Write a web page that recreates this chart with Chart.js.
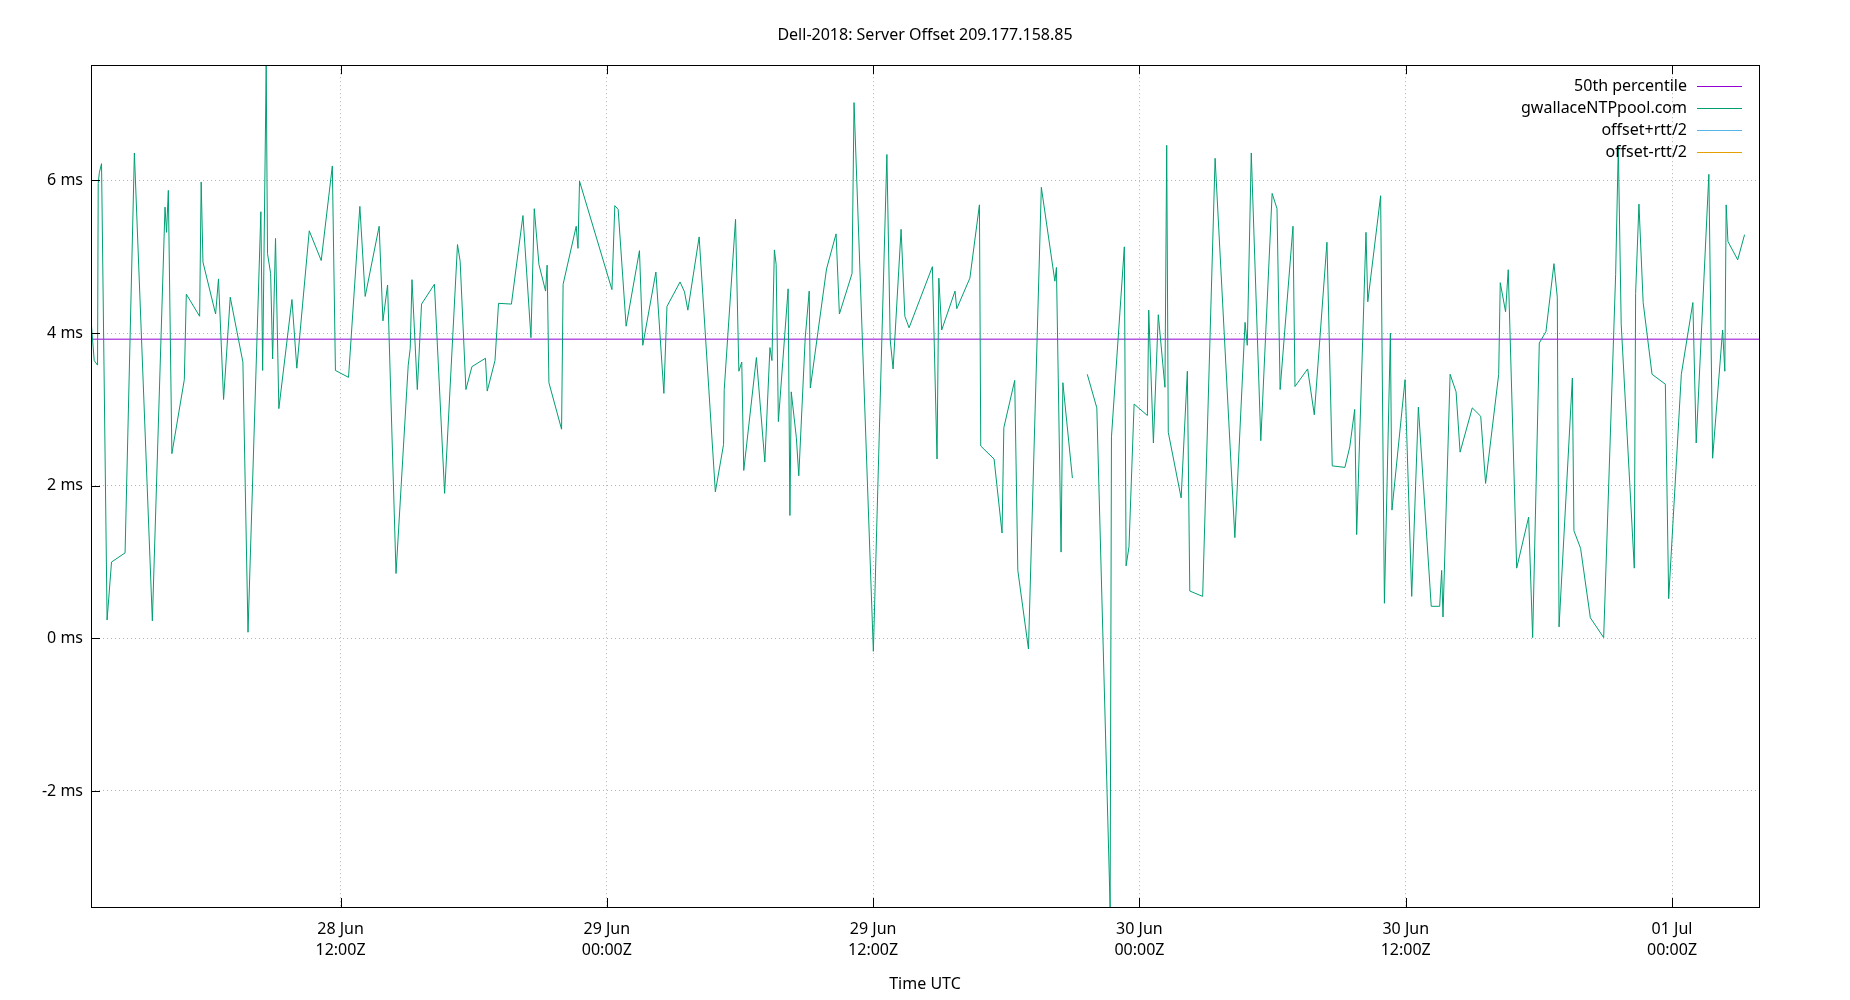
<!DOCTYPE html>
<html>
<head>
<meta charset="utf-8">
<title>Dell-2018: Server Offset 209.177.158.85</title>
<script src="https://cdn.jsdelivr.net/npm/chart.js@4.4.1/dist/chart.umd.min.js"></script>
<style>
  html, body { margin: 0; padding: 0; background: #fff; }
  #offsetChart { display: block; }
</style>
</head>
<body>
<canvas id="offsetChart" width="1850" height="1000"></canvas>
<script>
// hours since 28 Jun 2018 00:00Z
const times = [
  0.77, 0.90, 1.05, 1.08, 1.13, 1.23, 1.48, 1.68, 2.29, 2.71,
  3.52, 4.09, 4.16, 4.24, 4.40, 4.96, 5.05, 5.65, 5.72, 5.80,
  6.37, 6.50, 6.73, 7.03, 7.60, 7.83, 8.41, 8.49, 8.65, 8.71,
  8.85, 8.94, 9.07, 9.22, 9.81, 10.03, 10.59, 11.13, 11.63, 11.77,
  12.36, 12.87, 13.11, 13.74, 13.91, 14.12, 14.50, 15.05, 15.14, 15.22,
  15.46, 15.65, 16.23, 16.69, 17.27, 17.39, 17.65, 17.92, 18.53, 18.61,
  18.96, 19.12, 19.70, 20.22, 20.58, 20.73, 20.94, 21.24, 21.31, 21.39,
  21.96, 22.03, 22.62, 22.70, 22.77, 24.23, 24.36, 24.51, 24.87, 25.47,
  25.62, 26.21, 26.57, 26.71, 27.30, 27.50, 27.65, 28.16, 28.89, 29.26,
  29.29, 29.80, 29.95, 30.08, 30.17, 30.74, 31.12, 31.35, 31.44, 31.55,
  31.63, 31.73, 32.17, 32.25, 32.31, 32.54, 32.65, 32.94, 33.12, 33.17,
  33.90, 34.33, 34.48, 35.05, 35.14, 36.01, 36.62, 36.77, 36.90, 37.26,
  37.43, 37.62, 38.67, 38.88, 38.96, 39.09, 39.69, 39.77, 40.36, 40.79,
  40.85, 41.45, 41.81, 41.89, 42.38, 42.52, 43.00, 43.58, 44.19, 44.26,
  44.47, 44.55, 44.98, 45.30, 45.65, 46.08, 46.68, 46.74, 47.32, 47.40,
  47.53, 47.76, 48.36, 48.42, 48.63, 48.85, 49.15, 49.23, 49.30, 49.88,
  50.16, 50.27, 50.85, 51.41, 52.30, 52.76, 52.86, 53.04, 53.47, 53.98,
  54.20, 54.34, 54.92, 55.01, 55.58, 55.88, 56.45, 56.69, 57.26, 57.48,
  57.70, 57.79, 58.21, 58.29, 58.87, 59.04, 59.31, 59.38, 59.97, 60.27,
  60.57, 61.15, 61.53, 61.62, 61.68, 62.00, 62.27, 62.45, 63.00, 63.38,
  63.60, 64.19, 64.26, 64.50, 64.62, 65.00, 65.54, 65.72, 66.02, 66.32,
  66.68, 66.83, 66.91, 67.51, 67.58, 67.88, 68.32, 68.92, 69.46, 69.58,
  69.71, 70.30, 70.36, 70.51, 70.70, 71.10, 71.70, 71.85, 72.42, 72.94,
  73.09, 73.66, 73.83, 74.28, 74.38, 74.44, 74.52, 74.96, 75.27
];

// server offset in ms (null = gap in the data)
const offsets = [
  4.12, 3.64, 3.58, 5.96, 6.10, 6.22, 0.24, 1.00, 1.12, 6.36,
  0.23, 5.65, 5.32, 5.87, 2.42, 3.39, 4.51, 4.22, 5.98, 4.93,
  4.25, 4.71, 3.13, 4.47, 3.62, 0.08, 5.59, 3.51, 7.50, 5.04,
  4.78, 3.66, 5.24, 3.01, 4.44, 3.54, 5.34, 4.95, 6.19, 3.51,
  3.42, 5.66, 4.48, 5.40, 4.16, 4.63, 0.85, 3.58, 3.80, 4.70,
  3.26, 4.38, 4.64, 1.90, 5.16, 4.94, 3.26, 3.56, 3.67, 3.24,
  3.64, 4.39, 4.38, 5.54, 3.94, 5.63, 4.90, 4.55, 4.89, 3.35,
  2.74, 4.64, 5.40, 5.11, 5.99, 4.57, 5.67, 5.62, 4.09, 5.08,
  3.84, 4.80, 3.21, 4.35, 4.67, 4.54, 4.30, 5.26, 1.92, 2.54,
  3.26, 5.49, 3.50, 3.62, 2.20, 3.68, 2.31, 3.81, 3.64, 5.09,
  4.90, 2.84, 4.58, 1.61, 3.23, 2.63, 2.13, 3.94, 4.55, 3.28,
  4.84, 5.30, 4.25, 4.78, 7.02, -0.17, 6.34, 3.91, 3.53, 5.36,
  4.22, 4.07, 4.87, 2.35, 4.72, 4.04, 4.55, 4.32, 4.72, 5.68,
  2.52, 2.35, 1.38, 2.76, 3.38, 0.89, -0.14, 5.91, 4.68, 4.86,
  1.13, 3.35, 2.10, null, 3.46, 3.02, -3.52, 2.64, 5.13, 0.95,
  1.20, 3.07, 2.92, 4.30, 2.56, 4.24, 3.29, 6.46, 2.70, 1.84,
  3.50, 0.62, 0.55, 6.29, 1.32, 4.14, 3.84, 6.36, 2.59, 5.83,
  5.63, 3.26, 5.40, 3.30, 3.53, 2.93, 5.19, 2.26, 2.24, 2.51,
  3.00, 1.36, 5.32, 4.41, 5.80, 0.46, 4.00, 1.68, 3.39, 0.55,
  3.03, 0.42, 0.42, 0.89, 0.28, 3.46, 3.23, 2.44, 3.02, 2.91,
  2.03, 3.46, 4.66, 4.28, 4.83, 0.92, 1.59, 0.01, 3.87, 4.02,
  4.91, 4.47, 0.15, 3.41, 1.41, 1.18, 0.27, 0.01, 4.77, 6.44,
  4.12, 0.92, 4.52, 5.69, 4.40, 3.46, 3.33, 0.52, 3.46, 4.40,
  2.56, 6.08, 2.36, 4.04, 3.50, 5.68, 5.20, 4.96, 5.29
];

const percentile50 = 3.92;

const xRange = [0.755, 75.92];
const yRange = [-3.52, 7.51];

const xTickHours  = [12, 24, 36, 48, 60, 72];
const xTickLabels = [
  ['28 Jun', '12:00Z'],
  ['29 Jun', '00:00Z'],
  ['29 Jun', '12:00Z'],
  ['30 Jun', '00:00Z'],
  ['30 Jun', '12:00Z'],
  ['01 Jul', '00:00Z']
];
const yTicks = [-2, 0, 2, 4, 6];

const seriesNames  = ['50th percentile', 'gwallaceNTPpool.com', 'offset+rtt/2', 'offset-rtt/2'];
const seriesColors = ['#9400d3', '#009e73', '#56b4e9', '#e69f00'];

Chart.defaults.font.family = "'Noto Sans', 'DejaVu Sans', sans-serif";
Chart.defaults.font.size = 16;
Chart.defaults.color = '#000';

// gnuplot-ish frame: full box + inward tick marks
const framePlugin = {
    id: 'frame',
    afterDatasetsDraw(chart) {
        const { ctx, chartArea: a, scales } = chart;
        const tick = 9;
        ctx.save();
        ctx.strokeStyle = '#000';
        ctx.lineWidth = 1;
        ctx.beginPath();
        yTicks.forEach(v => {
            const y = Math.round(scales.y.getPixelForValue(v)) + 0.5;
            ctx.moveTo(a.left, y);
            ctx.lineTo(a.left + tick, y);
        });
        xTickHours.forEach(v => {
            const x = Math.round(scales.x.getPixelForValue(v)) + 0.5;
            ctx.moveTo(x, a.bottom);
            ctx.lineTo(x, a.bottom - tick);
            ctx.moveTo(x, a.top);
            ctx.lineTo(x, a.top + tick);
        });
        ctx.stroke();
        ctx.strokeRect(Math.round(a.left) + 0.5, Math.round(a.top) + 0.5,
                       Math.round(a.right - a.left), Math.round(a.bottom - a.top));
        ctx.restore();
    }
};

// key in the top right corner, text right aligned with the sample line after it
const keyPlugin = {
    id: 'key',
    afterDraw(chart) {
        const { ctx, chartArea: a } = chart;
        ctx.save();
        ctx.font = "16px 'Noto Sans', 'DejaVu Sans', sans-serif";
        ctx.textAlign = 'right';
        ctx.textBaseline = 'middle';
        seriesNames.forEach((name, i) => {
            const y = a.top + 21 + i * 22;
            ctx.fillStyle = '#000';
            ctx.fillText(name, a.right - 72, y);
            ctx.strokeStyle = seriesColors[i];
            ctx.lineWidth = 1;
            ctx.beginPath();
            ctx.moveTo(a.right - 62, Math.round(y) + 0.5);
            ctx.lineTo(a.right - 17, Math.round(y) + 0.5);
            ctx.stroke();
        });
        ctx.restore();
    }
};

const offsetPoints = times.map((t, i) => ({ x: t, y: offsets[i] }));

new Chart(document.getElementById('offsetChart').getContext('2d'), {
    type: 'line',
    data: {
        datasets: [
            {
                label: seriesNames[0],
                data: [{ x: xRange[0], y: percentile50 }, { x: xRange[1], y: percentile50 }],
                borderColor: seriesColors[0],
                borderWidth: 1,
                pointRadius: 0,
                order: 1
            },
            {
                label: seriesNames[1],
                data: offsetPoints,
                borderColor: seriesColors[1],
                borderWidth: 1,
                pointRadius: 0,
                tension: 0,
                spanGaps: false,
                order: 0
            },
            { label: seriesNames[2], data: [], borderColor: seriesColors[2], borderWidth: 1, pointRadius: 0, order: 2 },
            { label: seriesNames[3], data: [], borderColor: seriesColors[3], borderWidth: 1, pointRadius: 0, order: 3 }
        ]
    },
    options: {
        responsive: false,
        devicePixelRatio: 1,
        animation: false,
        layout: { padding: { top: 0, left: 0, right: 91, bottom: 0 } },
        plugins: {
            legend: { display: false },
            tooltip: { enabled: false },
            title: {
                display: true,
                fullSize: false,   // centre over the plot box, like gnuplot
                text: 'Dell-2018: Server Offset 209.177.158.85',
                color: '#000',
                font: { size: 16, weight: 'normal' },
                padding: { top: 25.5, bottom: 20.5 }
            }
        },
        scales: {
            x: {
                type: 'linear',
                min: xRange[0],
                max: xRange[1],
                afterFit: s => { s.height = 93; },
                afterBuildTicks: s => { s.ticks = xTickHours.map(v => ({ value: v })); },
                grid: { color: '#b4b4b4', lineWidth: 1, drawTicks: false },
                border: { display: false, dash: [1, 3] },
                ticks: {
                    autoSkip: false,
                    maxRotation: 0,
                    padding: 12,
                    font: { size: 16, lineHeight: 1.33 },
                    callback: v => xTickLabels[xTickHours.indexOf(v)]
                },
                title: {
                    display: true,
                    text: 'Time UTC',
                    font: { size: 16 },
                    padding: { top: 0, bottom: 6 }
                }
            },
            y: {
                min: yRange[0],
                max: yRange[1],
                afterFit: s => { s.width = 91; },
                afterBuildTicks: s => { s.ticks = yTicks.map(v => ({ value: v })); },
                grid: { color: '#b4b4b4', lineWidth: 1, drawTicks: false },
                border: { display: false, dash: [1, 3] },
                ticks: {
                    padding: 8,
                    callback: v => v + ' ms'
                }
            }
        }
    },
    plugins: [framePlugin, keyPlugin]
});
</script>
</body>
</html>
